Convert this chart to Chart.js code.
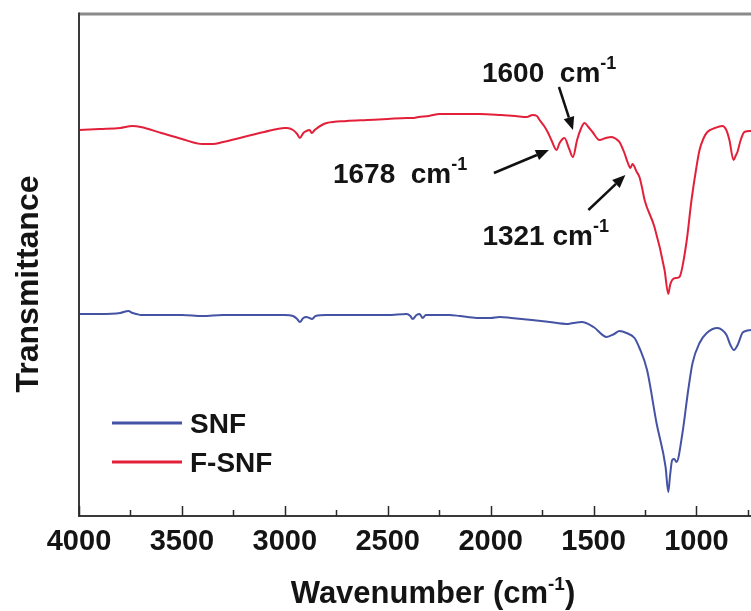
<!DOCTYPE html>
<html>
<head>
<meta charset="utf-8">
<script src="https://cdn.jsdelivr.net/npm/chart.js@4.4.1/dist/chart.umd.min.js"></script>
<style>
  html, body { margin: 0; padding: 0; background: #ffffff; }
  #wrap { width: 751px; height: 611px; }
</style>
</head>
<body>
<div id="wrap"><canvas id="c" width="751" height="611"></canvas></div>
<script>
// ---- data (transmittance in arbitrary units, offset spectra) ----
const seriesNames = ['SNF', 'F-SNF'];

const snfWavenumber = [4000,3900,3800,3760,3740,3720,3700,3600,3500,3400,3300,3200,3100,3000,2960,2940,2927,2910,2895,2880,2869,2850,2800,2700,2600,2500,2408,2390,2379,2360,2345,2330,2315,2300,2200,2150,2068,2000,1956,1900,1800,1714,1631,1600,1558,1500,1437,1400,1374,1340,1301,1277,1240,1194,1150,1137,1128,1118,1108,1097,1068,1040,1019,985,950,898,875,854,835,818,800,777,760,735];
const snfTransmittance = [202,202,203,205,203,202,201,201,201,200,201,201,201,201,200,197,194,198,199,198,197,200,201,201,201,201,202,200,197,201,202,198,201,201,201,200,198,198,199,198,196,194,192,193,194,189,179,182,185,183,178,168,146,93,49,24,41,56,57,54,83,126,153,173,183,188,186,181,171,166,171,183,185,186];

const fsnfWavenumber = [4000,3900,3800,3740,3700,3600,3500,3400,3350,3300,3200,3100,3000,2990,2960,2940,2927,2910,2895,2880,2869,2855,2820,2796,2700,2600,2500,2408,2380,2350,2300,2248,2150,2053,1950,1880,1825,1796,1775,1762,1740,1723,1705,1680,1665,1641,1620,1600,1580,1560,1544,1525,1505,1471,1440,1413,1390,1374,1350,1335,1321,1311,1290,1277,1262,1252,1204,1155,1137,1128,1118,1100,1083,1049,1024,1000,985,965,947,910,874,855,840,820,810,801,785,767,735];
const fsnfTransmittance = [386,387,388,390,389,383,377,372,372,374,379,384,388,388,386,382,378,383,385,386,383,386,391,393,395,396,397,398,398,399,400,402,402,402,401,400,399,401,400,396,390,384,376,366,373,378,368,359,376,388,393,389,384,376,378,379,377,374,363,354,348,352,344,339,326,316,289,246,222,231,236,238,239,273,316,349,366,378,384,388,390,386,376,356,360,364,376,384,385];

const tickValues = [4000,3500,3000,2500,2000,1500,1000];
const minorTickValues = [3750,3250,2750,2250,1750,1250,750];

const peakWavenumbers = [1678, 1600, 1321];
const peakLabels = ['1678', '1600', '1321'];

const xTitle = ['Wavenumber (cm', '-1', ')'];
const yTitle = 'Transmittance';

// ---- styles ----
const FONT = '"Liberation Sans", Arial, Helvetica, sans-serif';
const BLUE = '#4453a3';
const RED = '#e3203a';
const TEXT = '#141414';

function toPts(xs, ys) { return xs.map((x, i) => ({ x: x, y: ys[i] })); }

function drawSupText(ctx, parts, x, y, size, supSize, supRise, align) {
  // parts alternate: normal, sup, normal...
  const widths = parts.map((p, i) => {
    ctx.font = 'bold ' + (i % 2 === 1 ? supSize : size) + 'px ' + FONT;
    return ctx.measureText(p).width;
  });
  const total = widths.reduce((a, b) => a + b, 0);
  let cx = align === 'center' ? x - total / 2 : x;
  ctx.textAlign = 'left';
  ctx.textBaseline = 'alphabetic';
  parts.forEach((p, i) => {
    const sup = i % 2 === 1;
    ctx.font = 'bold ' + (sup ? supSize : size) + 'px ' + FONT;
    ctx.fillText(p, cx, sup ? y - supRise : y);
    cx += widths[i];
  });
}

function lookup(xs, ys, w) {
  let best = 0, bd = Infinity;
  xs.forEach((x, i) => { const d = Math.abs(x - w); if (d < bd) { bd = d; best = i; } });
  return ys[best];
}

const annStyle = [
  { text: [peakLabels[0] + '  cm', '-1'], tip: [-8, 0], tail: [-55, 23], label: [-224, 33] },
  { text: [peakLabels[1] + '  cm', '-1'], tip: [0, -27], tail: [-14, -43], label: [-91, -75] },
  { text: [peakLabels[2] + ' cm', '-1'], tip: [-5, 7], tail: [-37, 35], label: [-148, 77] }
];

const decor = {
  id: 'decor',
  afterDraw(chart) {
    const ctx = chart.ctx;
    const a = chart.chartArea;
    const xs = chart.scales.x, ys = chart.scales.y;
    ctx.save();
    // frame
    ctx.strokeStyle = '#8a8a8a';
    ctx.lineWidth = 3;
    ctx.beginPath(); ctx.moveTo(a.left, a.top); ctx.lineTo(a.right, a.top); ctx.stroke();
    ctx.strokeStyle = '#3a3a3a';
    ctx.lineWidth = 2;
    ctx.beginPath();
    ctx.moveTo(a.left, a.top - 1.5); ctx.lineTo(a.left, a.bottom);
    ctx.lineTo(a.right, a.bottom);
    ctx.stroke();
    // inward ticks
    ctx.lineWidth = 1.5;
    ctx.strokeStyle = '#2a2a2a';
    tickValues.forEach(v => {
      const px = Math.round(xs.getPixelForValue(v)) + 0.5;
      ctx.beginPath(); ctx.moveTo(px, a.bottom); ctx.lineTo(px, a.bottom - 10); ctx.stroke();
    });
    minorTickValues.forEach(v => {
      const px = Math.round(xs.getPixelForValue(v)) + 0.5;
      ctx.beginPath(); ctx.moveTo(px, a.bottom); ctx.lineTo(px, a.bottom - 6); ctx.stroke();
    });
    ctx.fillStyle = TEXT;
    // x title
    drawSupText(ctx, xTitle, 433, 603, 31, 19, 13, 'center');
    // y title
    ctx.save();
    ctx.translate(29, 284);
    ctx.rotate(-Math.PI / 2);
    ctx.font = 'bold 32px ' + FONT;
    ctx.textAlign = 'center';
    ctx.textBaseline = 'middle';
    ctx.fillText(yTitle, 0, 0);
    ctx.restore();
    // legend
    const ds = chart.data.datasets;
    const legX = a.left + 33, legY0 = a.bottom - 93, legGap = 39;
    ds.forEach((d, i) => {
      const ly = legY0 + i * legGap;
      ctx.strokeStyle = d.borderColor;
      ctx.lineWidth = 3;
      ctx.beginPath(); ctx.moveTo(legX, ly); ctx.lineTo(legX + 70, ly); ctx.stroke();
      ctx.fillStyle = TEXT;
      ctx.font = 'bold 28px ' + FONT;
      ctx.textAlign = 'left';
      ctx.textBaseline = 'middle';
      ctx.fillText(d.label, legX + 78, ly + 2);
    });
    // annotations
    peakWavenumbers.forEach((w, i) => {
      const st = annStyle[i];
      const px = xs.getPixelForValue(w);
      const py = ys.getPixelForValue(lookup(fsnfWavenumber, fsnfTransmittance, w));
      const tx = px + st.tip[0], ty = py + st.tip[1];
      const sx = tx + st.tail[0], sy = ty + st.tail[1];
      const ang = Math.atan2(ty - sy, tx - sx);
      const hl = 13, hw = 5.5;
      const bx = tx - hl * Math.cos(ang), by = ty - hl * Math.sin(ang);
      ctx.strokeStyle = '#111';
      ctx.lineWidth = 2.5;
      ctx.beginPath(); ctx.moveTo(sx, sy); ctx.lineTo(bx, by); ctx.stroke();
      ctx.fillStyle = '#111';
      ctx.beginPath();
      ctx.moveTo(tx, ty);
      ctx.lineTo(bx + hw * Math.sin(ang), by - hw * Math.cos(ang));
      ctx.lineTo(bx - hw * Math.sin(ang), by + hw * Math.cos(ang));
      ctx.closePath(); ctx.fill();
      ctx.fillStyle = TEXT;
      drawSupText(ctx, st.text, px + st.label[0], py + st.label[1], 28, 18, 13, 'left');
    });
    ctx.restore();
  }
};

new Chart(document.getElementById('c'), {
  type: 'line',
  data: {
    datasets: [
      { label: seriesNames[0], data: toPts(snfWavenumber, snfTransmittance), borderColor: BLUE, borderWidth: 2, pointRadius: 0, fill: false, cubicInterpolationMode: 'monotone' },
      { label: seriesNames[1], data: toPts(fsnfWavenumber, fsnfTransmittance), borderColor: RED, borderWidth: 2, pointRadius: 0, fill: false, cubicInterpolationMode: 'monotone' }
    ]
  },
  options: {
    responsive: false,
    animation: false,
    layout: { padding: { left: 79, top: 14, right: 0, bottom: 0 } },
    plugins: { legend: { display: false }, tooltip: { enabled: false } },
    scales: {
      x: {
        type: 'linear',
        reverse: true,
        min: 735,
        max: 4000,
        afterFit(s) { s.height = 95; },
        afterBuildTicks(s) { s.ticks = tickValues.map(v => ({ value: v })); },
        grid: { display: false, drawTicks: false },
        border: { display: false },
        ticks: {
          autoSkip: false, maxRotation: 0, minRotation: 0,
          color: TEXT, padding: 9,
          font: { family: FONT, size: 29, weight: 'bold' },
          callback: v => String(v)
        }
      },
      y: { display: false, min: 0, max: 502 }
    }
  },
  plugins: [decor]
});
</script>
</body>
</html>
